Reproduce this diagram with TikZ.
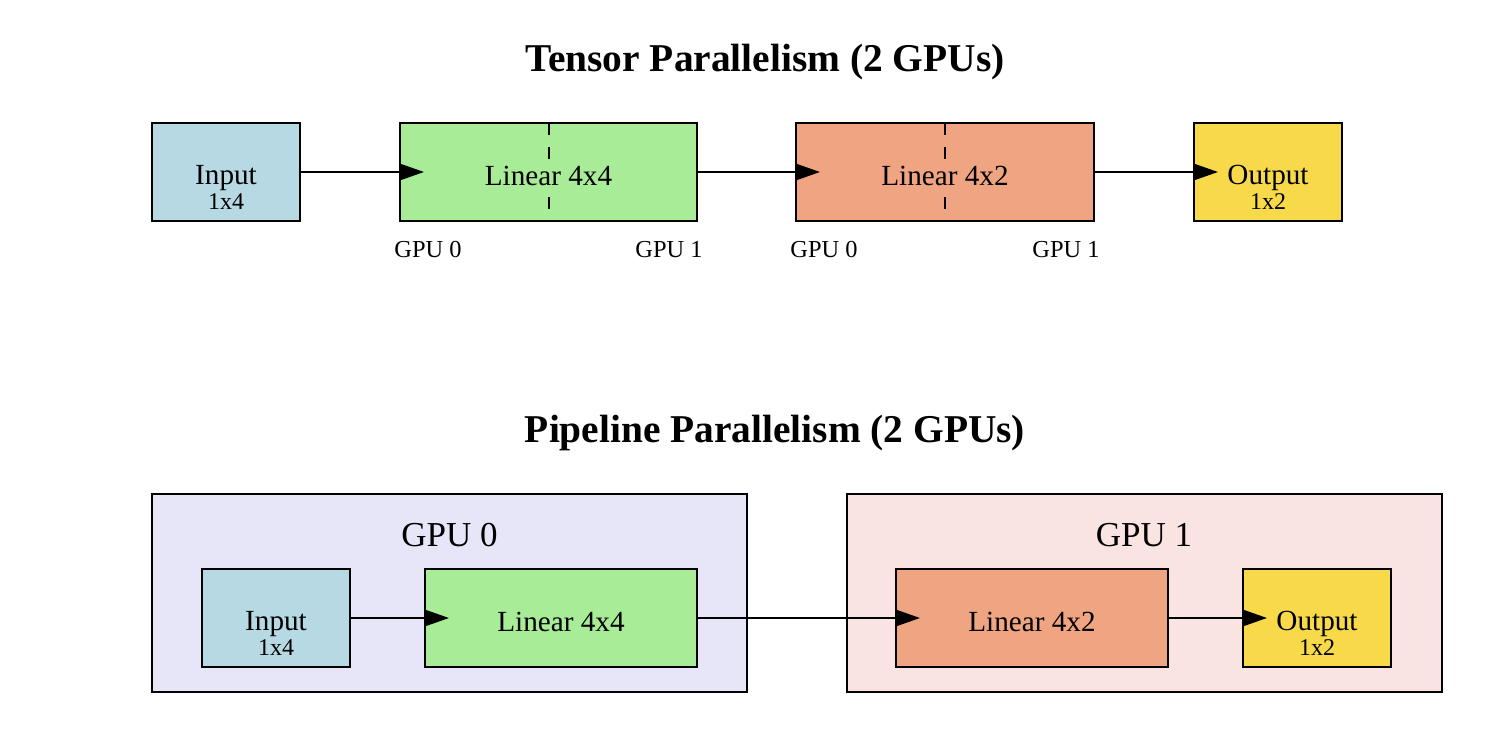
\documentclass[tikz,border=0pt]{standalone}
\usepackage{fontspec}
\setmainfont{Liberation Serif}
\usetikzlibrary{arrows.meta}
\definecolor{inblue}{HTML}{B7D9E4}
\definecolor{lgreen}{HTML}{A8EC98}
\definecolor{lsalmon}{HTML}{F0A582}
\definecolor{lgold}{HTML}{F8D94A}
\definecolor{lav}{HTML}{E6E6F8}
\definecolor{lpink}{HTML}{FAE4E2}
\tikzset{
  box/.style={draw=black, line width=1pt, inner sep=0pt, minimum height=49pt},
  clusterbox/.style={draw=black, line width=1pt, inner sep=0pt, minimum width=297.5pt, minimum height=99pt},
  maintxt/.style={font=\fontsize{14.6}{17}\selectfont, anchor=base, inner sep=0pt},
  subtxt/.style={font=\fontsize{12}{14}\selectfont, anchor=base, inner sep=0pt},
  gputxt/.style={font=\fontsize{12.2}{14}\selectfont, anchor=base, inner sep=0pt},
  clustertxt/.style={font=\fontsize{17.5}{20}\selectfont, anchor=base, inner sep=0pt},
  titletxt/.style={font=\fontsize{19.7}{23}\selectfont\bfseries, anchor=base, inner sep=0pt},
  flow/.style={line width=1pt, -{Triangle[length=12.5pt, width=8.5pt]}},
  splitline/.style={line width=1pt, dash pattern=on 6pt off 6pt},
}
\begin{document}
\begin{tikzpicture}[x=0.5pt, y=-0.5pt]
\useasboundingbox (0,0) rectangle (1496,740);

% ---------- Tensor parallelism ----------
\node[titletxt] (t1) at (765,71) {Tensor Parallelism (2 GPUs)};

\node[box, fill=inblue, minimum width=74pt] (tin) at (226,172) {};
\node[maintxt] (tinA) at (226,184) {Input};
\node[subtxt] (tinB) at (226,209) {1x4};

\node[box, fill=lgreen, minimum width=148.5pt] (tl1) at (548.5,172) {};
\node[maintxt] (tl1t) at (548.5,185) {Linear 4x4};
\draw[splitline] (549,123) -- (549,160);
\draw[splitline] (549,197) -- (549,221);

\node[box, fill=lsalmon, minimum width=149pt] (tl2) at (945,172) {};
\node[maintxt] (tl2t) at (945,185) {Linear 4x2};
\draw[splitline] (945,123) -- (945,160);
\draw[splitline] (945,197) -- (945,221);

\node[box, fill=lgold, minimum width=74pt] (tout) at (1268,172) {};
\node[maintxt] (toutA) at (1268,184) {Output};
\node[subtxt] (toutB) at (1268,209) {1x2};

\node[gputxt] (g0a) at (428,257) {GPU 0};
\node[gputxt] (g1a) at (669,257) {GPU 1};
\node[gputxt] (g0b) at (824,257) {GPU 0};
\node[gputxt] (g1b) at (1066,257) {GPU 1};

\draw[flow] (tin.east) -- ([xshift=12.5pt]tl1.west);
\draw[flow] (tl1.east) -- ([xshift=12.5pt]tl2.west);
\draw[flow] (tl2.east) -- ([xshift=12.5pt]tout.west);

% ---------- Pipeline parallelism ----------
\node[titletxt] (t2) at (775,442) {Pipeline Parallelism (2 GPUs)};

\node[clusterbox, fill=lav] (c0) at (449.5,593) {};
\node[clustertxt] (c0t) at (449.5,546) {GPU 0};
\node[clusterbox, fill=lpink] (c1) at (1144,593) {};
\node[clustertxt] (c1t) at (1144,546) {GPU 1};

\node[box, fill=inblue, minimum width=74pt] (pin) at (276,618) {};
\node[maintxt] (pinA) at (276,630) {Input};
\node[subtxt] (pinB) at (276,655) {1x4};

\node[box, fill=lgreen, minimum width=136pt] (pl1) at (561,618) {};
\node[maintxt] (pl1t) at (561,631) {Linear 4x4};

\node[box, fill=lsalmon, minimum width=136pt] (pl2) at (1032,618) {};
\node[maintxt] (pl2t) at (1032,631) {Linear 4x2};

\node[box, fill=lgold, minimum width=74pt] (pout) at (1317,618) {};
\node[maintxt] (poutA) at (1317,630) {Output};
\node[subtxt] (poutB) at (1317,655) {1x2};

\draw[flow] (pin.east) -- ([xshift=12.5pt]pl1.west);
\draw[flow] (pl1.east) -- ([xshift=12.5pt]pl2.west);
\draw[flow] (pl2.east) -- ([xshift=12.5pt]pout.west);
\end{tikzpicture}
\end{document}
